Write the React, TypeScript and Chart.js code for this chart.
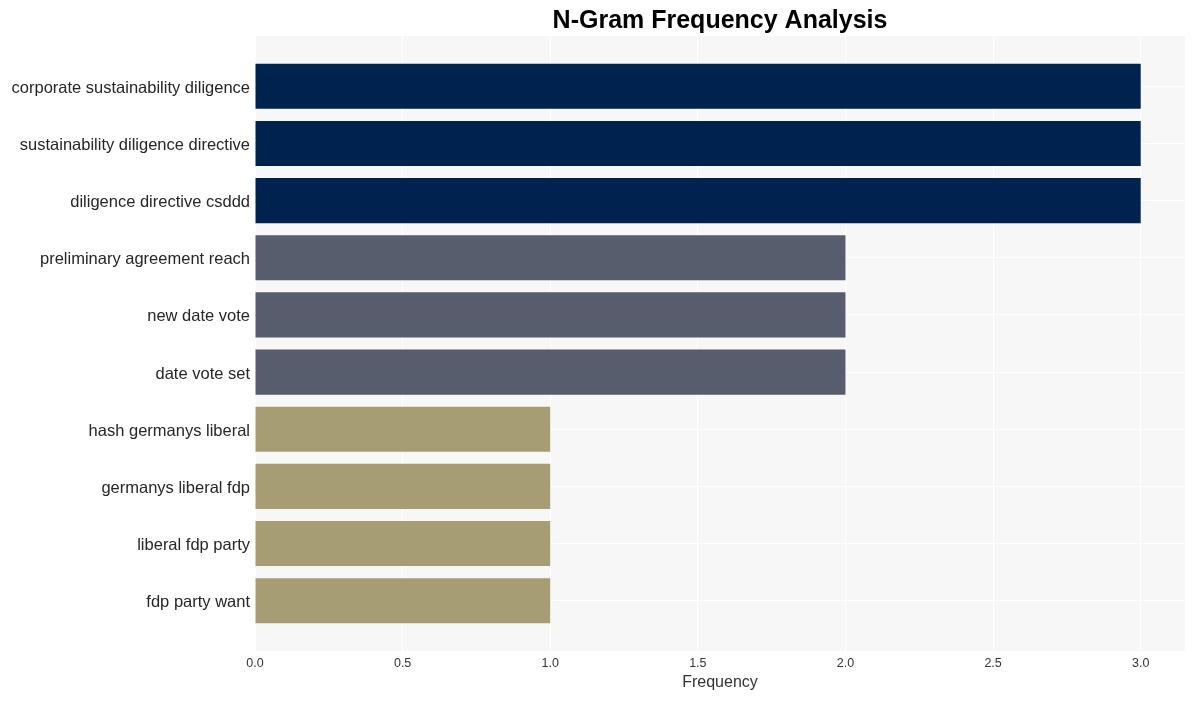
import React, { useEffect, useRef } from "react";
import { Chart, registerables } from "chart.js";

Chart.register(...registerables);

const categories: string[] = [
  "corporate sustainability diligence",
  "sustainability diligence directive",
  "diligence directive csddd",
  "preliminary agreement reach",
  "new date vote",
  "date vote set",
  "hash germanys liberal",
  "germanys liberal fdp",
  "liberal fdp party",
  "fdp party want",
];

const frequencies: number[] = [3, 3, 3, 2, 2, 2, 1, 1, 1, 1];

const barColors: string[] = [
  "#00224e",
  "#00224e",
  "#00224e",
  "#575d6d",
  "#575d6d",
  "#575d6d",
  "#a69d75",
  "#a69d75",
  "#a69d75",
  "#a69d75",
];

const xTicks: number[] = [0, 0.5, 1.0, 1.5, 2.0, 2.5, 3.0];

const titleText = "N-Gram Frequency Analysis";
const xAxisTitle = "Frequency";

const FONT = "'Liberation Sans', Arial, Helvetica, sans-serif";

export default function App() {
  const canvasRef = useRef<HTMLCanvasElement | null>(null);

  useEffect(() => {
    if (!canvasRef.current) return;

    const bgPlugin = {
      id: "plotBg",
      beforeDraw(chart: any) {
        const { ctx, chartArea } = chart;
        ctx.save();
        ctx.fillStyle = "#f7f7f7";
        ctx.fillRect(
          chartArea.left,
          chartArea.top,
          chartArea.right - chartArea.left,
          chartArea.bottom - chartArea.top
        );
        ctx.restore();
      },
      afterDraw(chart: any) {
        const { ctx, chartArea } = chart;
        ctx.save();
        ctx.fillStyle = "#000000";
        ctx.font = `bold 25px ${FONT}`;
        ctx.textAlign = "center";
        ctx.textBaseline = "middle";
        ctx.fillText(titleText, (chartArea.left + chartArea.right) / 2, 13);
        ctx.restore();
      },
    };

    const chart = new Chart(canvasRef.current, {
      type: "bar",
      data: {
        datasets: [
          {
            data: frequencies.map((v, i) => ({ x: v, y: i })),
            backgroundColor: barColors,
            borderWidth: 0,
            barPercentage: 0.79,
            categoryPercentage: 1,
          } as any,
        ],
      },
      options: {
        indexAxis: "y",
        animation: false,
        responsive: false,
        maintainAspectRatio: false,
        layout: { padding: { top: 28, right: 2, left: 0, bottom: 0 } },
        plugins: {
          legend: { display: false },
          tooltip: { enabled: false },
          title: { display: false },
        },
        scales: {
          x: {
            type: "linear",
            position: "bottom",
            min: 0,
            max: 3.15,
            offset: false,
            afterBuildTicks(scale: any) {
              scale.ticks = xTicks.map((v) => ({ value: v }));
            },
            afterFit(scale: any) {
              scale.height = 42;
            },
            grid: {
              color: "#ffffff",
              lineWidth: 1,
              drawTicks: false,
              offset: false,
            },
            border: { display: false },
            ticks: {
              padding: 5,
              color: "#333333",
              font: { family: FONT, size: 12.5 },
              callback: (v: any) => Number(v).toFixed(1),
            },
            title: {
              display: true,
              text: xAxisTitle,
              color: "#333333",
              font: { family: FONT, size: 16 },
              padding: { top: 2, bottom: 1 },
            },
          },
          y: {
            type: "linear",
            position: "left",
            min: -0.88,
            max: 9.88,
            reverse: true,
            offset: false,
            afterBuildTicks(scale: any) {
              scale.ticks = categories.map((_, i) => ({ value: i }));
            },
            afterFit(scale: any) {
              scale.width = 247;
            },
            grid: {
              color: "#ffffff",
              lineWidth: 1,
              drawTicks: false,
              offset: false,
            },
            border: { display: false },
            ticks: {
              autoSkip: false,
              padding: 5,
              labelOffset: 2,
              color: "#262626",
              font: { family: FONT, size: 16.5 },
              callback: (v: any) => categories[Number(v)] ?? "",
            },
          },
        },
      },
      plugins: [bgPlugin],
    });

    return () => chart.destroy();
  }, []);

  return (
    <div style={{ width: 1179, height: 685 }}>
      <canvas ref={canvasRef} width={1179} height={685} style={{ display: "block" }} />
    </div>
  );
}
